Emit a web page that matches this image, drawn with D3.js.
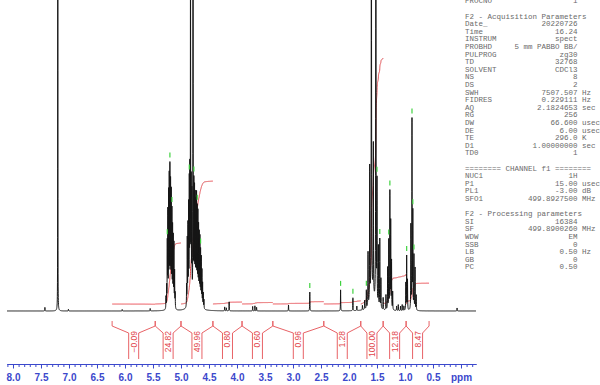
<!DOCTYPE html>
<html>
<head>
<meta charset="utf-8">
<script src="https://cdn.jsdelivr.net/npm/d3@7"></script>
<style>
body { margin: 0; background: #fff; }
svg { display: block; }
</style>
</head>
<body>
<svg id="chart" width="600" height="385"></svg>
<script>
// peak list: shift in ppm and height in plot units (100 ~ 300px)
var peakPpm = [7.43, 7.01, 6.05, 5.55,
    5.268, 5.256, 5.245, 5.235, 5.222, 5.21, 5.198, 5.186, 5.174, 5.162, 5.15, 5.138, 5.126, 5.114, 5.104,
    4.90, 4.888, 4.876, 4.864, 4.852, 4.842, 4.818, 4.806, 4.77, 4.758, 4.746, 4.734, 4.722,
    4.71, 4.698, 4.686, 4.674, 4.662, 4.65, 4.638, 4.626, 4.614, 4.602, 4.59,
    4.22, 4.19, 4.14, 3.72, 3.68, 3.65, 3.08, 2.70, 2.15, 1.93, 1.86,
    1.76, 1.72, 1.69, 1.66, 1.63, 1.565, 1.50, 1.475, 1.45, 1.43, 1.39,
    1.34, 1.31, 1.29, 1.27, 1.255, 1.24, 1.22, 1.15, 1.12, 1.08, 1.05, 1.02,
    0.985, 0.97, 0.955, 0.895, 0.875, 0.86, 0.84, 0.82, 0.80, 0.07];
var peakHeight = [1.2, 0.6, 0.5, 0.8,
    4, 7, 21, 31, 37, 42, 45, 40, 37, 31, 26, 23, 21, 12, 5,
    7, 22, 26, 32, 39, 42, 38, 35, 37, 35, 33, 31, 34,
    30, 29, 25, 23, 22, 18, 16, 12, 8, 5, 3,
    1.3, 1, 3, 1.5, 1.7, 1.2, 2, 6.3, 7, 4.3, 1.5,
    1.5, 3, 6, 18, 45, 50, 40, 20, 23, 10, 4,
    5, 14, 23, 39, 29, 16, 6, 1.5, 2, 1.5, 2, 1.5,
    9, 18, 10, 28, 63, 32, 18, 14, 5, 1];
var lineHalfWidth = 0.0025;

// lines that run off the top of the plot (solvent at 7.2 and the two big doublets)
var tallPpm = [7.20, 4.83, 4.785, 1.60, 1.52];
var tallHeight = [150, 140, 140, 170, 160];
var tallHalfWidth = [0.0015, 0.002, 0.002, 0.003, 0.003];

// broad feet under the big multiplets
var broadPpm = [1.58, 4.76];
var broadHeight = [5, 3];
var broadHalfWidth = [0.04, 0.06];

// peak-picking marks
var markPpm = [5.198, 5.245, 5.162, 4.852, 4.77, 4.71, 4.65, 2.70, 2.15, 1.93, 1.69,
    1.50, 1.45, 1.29, 1.27, 0.97, 0.875, 0.86, 0.84];

// integral regions (edges in ppm) and their values
var integralEdges = [6.23, 5.46, 5.00, 4.43, 3.91, 3.36, 2.45, 1.79, 1.39, 0.98, 0.57];
var integralValues = [-0.09, 24.82, 49.96, 0.80, 0.60, 0.96, 1.28, 100.00, 12.18, 8.47];

var majorTicks = [8.0, 7.5, 7.0, 6.5, 6.0, 5.5, 5.0, 4.5, 4.0, 3.5, 3.0, 2.5, 2.0, 1.5, 1.0, 0.5, 0.0];

// parameter listing: [key, value, unit]; header rows have only a key
var acqParams = [
    ["Date_", "20220726", ""], ["Time", "16.24", ""], ["INSTRUM", "spect", ""],
    ["PROBHD", "5 mm PABBO BB/", ""], ["PULPROG", "zg30", ""], ["TD", "32768", ""],
    ["SOLVENT", "CDCl3", ""], ["NS", "8", ""], ["DS", "2", ""],
    ["SWH", "7507.507", "Hz"], ["FIDRES", "0.229111", "Hz"], ["AQ", "2.1824653", "sec"],
    ["RG", "256", ""], ["DW", "66.600", "usec"], ["DE", "6.00", "usec"],
    ["TE", "296.0", "K"], ["D1", "1.00000000", "sec"], ["TD0", "1", ""]];
var chanParams = [
    ["NUC1", "1H", ""], ["P1", "15.00", "usec"], ["PL1", "-3.00", "dB"], ["SFO1", "499.8927500", "MHz"]];
var procParams = [
    ["SI", "16384", ""], ["SF", "499.8900260", "MHz"], ["WDW", "EM", ""], ["SSB", "0", ""],
    ["LB", "0.50", "Hz"], ["GB", "0", ""], ["PC", "0.50", ""]];

var svg = d3.select("#chart");
var blue = "#3b48cc";
var red = "#e2454a";

var x = d3.scaleLinear().domain([8.107, -0.268]).range([7, 476]);
var y = d3.scaleLinear().domain([0, 100]).range([311, 11]);
var iy = d3.scaleLinear().domain([0, 100]).range([304, 58]);

function lorentz(p, c, h, w) {
    var d = (p - c) / w;
    return h / (1 + d * d);
}

function spectrum(p) {
    var s = 0, i;
    for (i = 0; i < peakPpm.length; i++) s += lorentz(p, peakPpm[i], peakHeight[i], lineHalfWidth);
    for (i = 0; i < tallPpm.length; i++) s += lorentz(p, tallPpm[i], tallHeight[i], tallHalfWidth[i]);
    for (i = 0; i < broadPpm.length; i++) s += lorentz(p, broadPpm[i], broadHeight[i], broadHalfWidth[i]);
    return s;
}

var grid = d3.range(8.107, -0.268, -0.0012).concat(peakPpm, tallPpm);
grid.sort(function (a, b) { return b - a; });
var points = grid.map(function (p) { return [p, spectrum(p)]; });

var line = d3.line()
    .x(function (d) { return x(d[0]); })
    .y(function (d) { return y(d[1]); });

// integral curves
integralValues.forEach(function (v, i) {
    var a = integralEdges[i], b = integralEdges[i + 1];
    var seg = points.filter(function (d) { return d[0] <= a && d[0] >= b; });
    var cum = 0, acc = [];
    seg.forEach(function (d, k) {
        if (k > 0) cum += (seg[k - 1][0] - d[0]) * (d[1] + seg[k - 1][1]) / 2;
        acc.push([d[0], cum]);
    });
    var total = cum || 1;
    svg.append("path")
        .attr("fill", "none")
        .attr("stroke", red)
        .attr("stroke-width", 1)
        .attr("d", d3.line()
            .x(function (d) { return x(d[0]); })
            .y(function (d) { return iy(v * d[1] / total); })(acc));
});

svg.append("path")
    .datum(points)
    .attr("fill", "none")
    .attr("stroke", "#151515")
    .attr("stroke-width", 1)
    .attr("d", line);

// green peak marks
svg.append("g").selectAll("line")
    .data(markPpm)
    .enter().append("line")
    .attr("x1", function (d) { return x(d); })
    .attr("x2", function (d) { return x(d); })
    .attr("y1", function (d) { return y(spectrum(d)) - 9; })
    .attr("y2", function (d) { return y(spectrum(d)) - 4; })
    .attr("stroke", "#3fd23f")
    .attr("stroke-width", 1.2);

// integral brackets and labels
var brackets = svg.append("g");
integralValues.forEach(function (v, i) {
    var xa = x(integralEdges[i]), xb = x(integralEdges[i + 1]);
    var cx = (xa + xb) / 2;
    var pts = [[xa, 321], [xa, 326], [cx - 5, 333], [cx - 5, 359]];
    var pts2 = [[xb, 321], [xb, 326], [cx + 5, 333], [cx + 5, 359]];
    [pts, pts2].forEach(function (p) {
        brackets.append("path")
            .attr("fill", "none")
            .attr("stroke", "#e86266")
            .attr("stroke-width", 1)
            .attr("d", d3.line()(p));
    });
    brackets.append("text")
        .attr("x", cx)
        .attr("y", 331)
        .attr("transform", "rotate(-90," + cx + ",331)")
        .attr("text-anchor", "end")
        .attr("dominant-baseline", "central")
        .attr("font-family", "Liberation Sans, Arial, sans-serif")
        .attr("font-size", 8.5)
        .attr("fill", red)
        .text(d3.format(".2f")(v));
});

// ppm axis
var minorTicks = d3.range(81, -3, -1).map(function (d) { return d / 10; });
var axisG = svg.append("g").attr("transform", "translate(0,364)");
axisG.call(d3.axisBottom(x).tickValues(minorTicks).tickSize(3).tickSizeOuter(0).tickFormat(""));
axisG.append("g").call(d3.axisBottom(x).tickValues(majorTicks).tickSize(4.5).tickSizeOuter(0).tickPadding(5)
    .tickFormat(function (d) { return d === 0 ? "ppm" : d3.format(".1f")(d); }));
axisG.selectAll("path, line").attr("stroke", blue);
axisG.selectAll("text")
    .attr("fill", blue)
    .attr("font-family", "Liberation Sans, Arial, sans-serif")
    .attr("font-weight", "bold")
    .attr("font-size", 10);

// parameter text
var rows = [["PROCNO", "1", ""], null, ["F2 - Acquisition Parameters"]]
    .concat(acqParams, [null, ["======== CHANNEL f1 ========"]], chanParams,
        [null, ["F2 - Processing parameters"]], procParams);
var pg = svg.append("g")
    .attr("font-family", "Courier New, Liberation Mono, monospace")
    .attr("font-size", 7.5)
    .attr("fill", "#6a6a6a")
    .style("white-space", "pre");
rows.forEach(function (r, i) {
    if (!r) return;
    var ry = 16.5 + (i - 2) * 7.6;
    pg.append("text").attr("x", 465).attr("y", ry).attr("dominant-baseline", "central").text(r[0]);
    if (r.length > 1) {
        pg.append("text").attr("x", 577.5).attr("y", ry).attr("text-anchor", "end")
            .attr("dominant-baseline", "central").text(r[1]);
        if (r[2]) pg.append("text").attr("x", 582).attr("y", ry)
            .attr("dominant-baseline", "central").text(r[2]);
    }
});
</script>
</body>
</html>
